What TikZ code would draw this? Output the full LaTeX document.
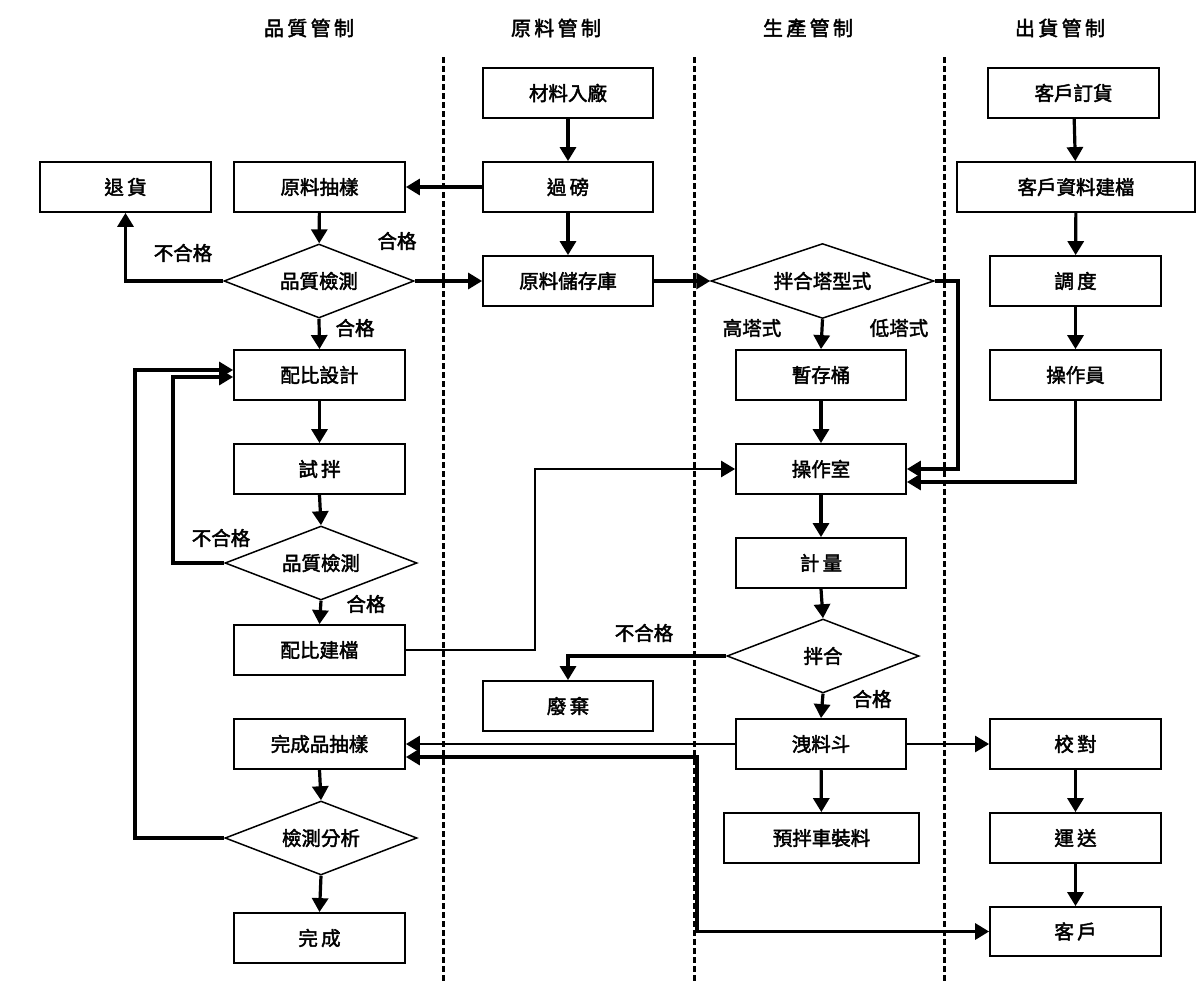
\documentclass[tikz,border=0pt]{standalone}
\usepackage{fontspec}
\setmainfont{Noto Sans CJK TC}[FakeBold=2.2]
\usetikzlibrary{arrows.meta,shapes.geometric,calc}
\tikzset{
  box/.style={draw,line width=1.8pt,minimum height=50pt,minimum width=171pt,inner sep=0pt,font=\fontsize{19.5}{22}\selectfont},
  dia/.style={draw,line width=1.5pt,diamond,inner sep=0pt,aspect=2.6,font=\fontsize{19.5}{22}\selectfont},
  conn/.style={line width=3.2pt,-{Triangle[length=14pt,width=16pt]}},
  lbl/.style={font=\fontsize{19.5}{22}\selectfont},
  hdr/.style={font=\fontsize{20}{24}\selectfont},
  lane/.style={line width=3pt,dash pattern=on 6pt off 3pt}
}
\begin{document}
\begin{tikzpicture}[x=1pt,y=-1pt]
\useasboundingbox (0,0) rectangle (1200,983);
% headers
\node[hdr] (h1) at (309,28) {品\,質\,管\,制};
\node[hdr] (h2) at (556,28) {原\,料\,管\,制};
\node[hdr] (h3) at (808,28) {生\,產\,管\,制};
\node[hdr] (h4) at (1060,28) {出\,貨\,管\,制};
% lanes
\draw[lane] (443,57) -- (443,983);
\draw[lane] (694,57) -- (694,983);
\draw[lane] (944,57) -- (944,983);
% quality column
\node[box] (th) at (125.5,187) {退\,貨};
\node[box] (ycy) at (319.5,187) {原料抽樣};
\node[dia,minimum width=190pt,minimum height=74pt] (q1) at (319,281) {品質檢測};
\node[box] (pbsj) at (319.5,375) {配比設計};
\node[box] (sb) at (319.5,469) {試\,拌};
\node[dia,minimum width=192pt,minimum height=74pt] (q2) at (321,563) {品質檢測};
\node[box] (pbjd) at (319.5,650) {配比建檔};
\node[box] (wcp) at (319.5,744) {完成品抽樣};
\node[dia,minimum width=192pt,minimum height=74pt] (jcfx) at (321,838) {檢測分析};
\node[box] (wc) at (319.5,938) {完\,成};
% material column
\node[box,minimum width=170pt] (clrc) at (568,93) {材料入廠};
\node[box,minimum width=170pt] (gb) at (568,187) {過\,磅};
\node[box,minimum width=170pt] (ylck) at (568,281) {原料儲存庫};
\node[box,minimum width=170pt] (fq) at (568,706) {廢\,棄};
% production column
\node[dia,minimum width=223pt,minimum height=75pt] (bhtx) at (822.5,281) {拌合塔型式};
\node[box,minimum width=170pt] (zct) at (821,375) {暫存桶};
\node[box,minimum width=170pt] (czs) at (821,469) {操作室};
\node[box,minimum width=170pt] (jl) at (821,563) {計\,量};
\node[dia,minimum width=192pt,minimum height=74pt] (bh) at (823,656) {拌合};
\node[box,minimum width=170pt] (xld) at (821,744) {洩料斗};
\node[box,minimum width=195pt] (ybc) at (821.5,838) {預拌車裝料};
% shipping column
\node[box] (khdh) at (1073.5,93) {客戶訂貨};
\node[box,minimum width=238pt] (khzl) at (1076,187) {客戶資料建檔};
\node[box] (dd) at (1075.5,281) {調\,度};
\node[box] (czy) at (1075.5,375) {操作員};
\node[box] (jd) at (1075.5,744) {校\,對};
\node[box] (ys) at (1075.5,838) {運\,送};
\node[box,minimum height=49pt] (kh) at (1075.5,931.5) {客\,戶};
% connectors - material
\draw[conn] (clrc) -- (gb);
\draw[conn] (gb) -- (ylck);
\draw[conn] (gb) -- (ycy);
% quality
\draw[conn] (ycy) -- (q1);
\draw[conn] (q1.west) -| (th.south);
\draw[conn] (q1.east) -- (ylck.west);
\draw[conn] (q1.south) -- (pbsj.north);
\draw[conn] (pbsj) -- (sb);
\draw[conn] (sb.south) -- (q2.north);
\draw[conn] (q2.west) -- (173,563) |- ([yshift=-2pt]pbsj.west);
\draw[conn] (jcfx.west) -- (135,838) |- ([yshift=5pt]pbsj.west);
\draw[conn] (q2.south) -- (pbjd.north);
\draw[conn,line width=2.6pt] (pbjd.east) -- (535,650) |- (czs.west);
\draw[conn] (wcp.south) -- (jcfx.north);
\draw[conn] (jcfx.south) -- (wc.north);
% production
\draw[conn] (ylck.east) -- (bhtx.west);
\draw[conn] (bhtx.south) -- (zct.north);
\draw[conn] (bhtx.east) -- (958,281) |- (czs.east);
\draw[conn] (czy.south) |- ([yshift=-13pt]czs.east);
\draw[conn] (zct) -- (czs);
\draw[conn] (czs) -- (jl);
\draw[conn] (jl.south) -- (bh.north);
\draw[conn] (bh.west) -| (fq.north);
\draw[conn] (bh.south) -- (xld.north);
\draw[conn,line width=2.6pt] (xld.west) -- (wcp.east);
\draw[conn,{Triangle[length=14pt,width=16pt]}-{Triangle[length=14pt,width=16pt]}] ([yshift=-13pt]wcp.east) -- (697,757) |- (kh.west);
\draw[conn,line width=2.6pt] (xld.east) -- (jd.west);
\draw[conn] (xld) -- (ybc);
% shipping
\draw[conn] (khdh) -- (khzl);
\draw[conn] (khzl) -- (dd);
\draw[conn] (dd) -- (czy);
\draw[conn] (jd) -- (ys);
\draw[conn] (ys) -- (kh);
% labels
\node[lbl] (l1) at (397,241) {合格};
\node[lbl] (l2) at (183,253) {不合格};
\node[lbl] (l3) at (355,328) {合格};
\node[lbl] (l4) at (221,538) {不合格};
\node[lbl] (l5) at (366,604) {合格};
\node[lbl] (l6) at (752,328) {高塔式};
\node[lbl] (l7) at (899,328) {低塔式};
\node[lbl] (l8) at (644,633) {不合格};
\node[lbl] (l9) at (872,699) {合格};
\end{tikzpicture}
\end{document}
